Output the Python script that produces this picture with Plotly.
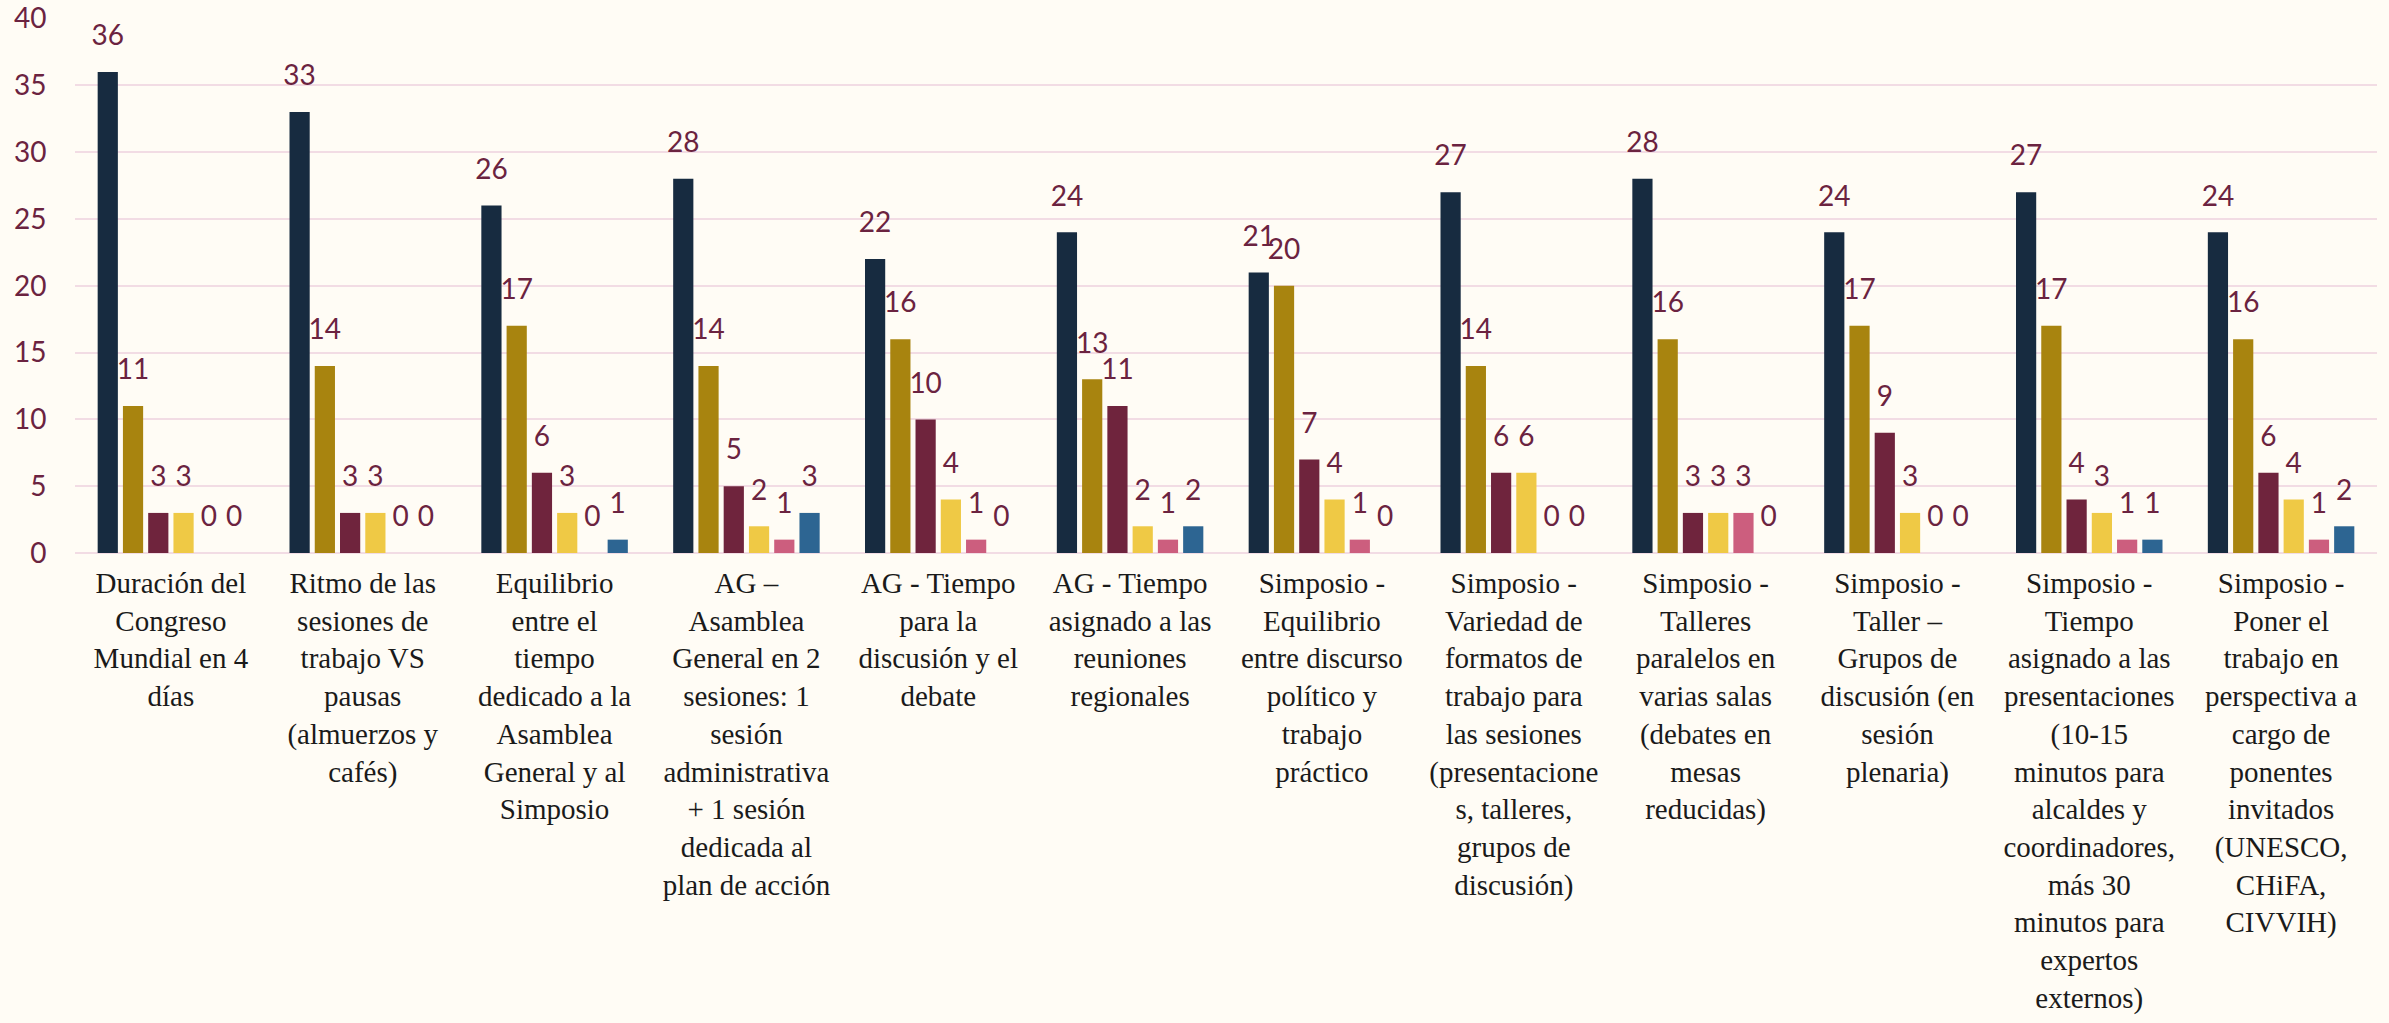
import plotly.graph_objects as go

# Categorías del eje X (con saltos de línea como en el original)
categorias = [
    "Duración del<br>Congreso<br>Mundial en 4<br>días",
    "Ritmo de las<br>sesiones de<br>trabajo VS<br>pausas<br>(almuerzos y<br>cafés)",
    "Equilibrio<br>entre el<br>tiempo<br>dedicado a la<br>Asamblea<br>General y al<br>Simposio",
    "AG –<br>Asamblea<br>General en 2<br>sesiones: 1<br>sesión<br>administrativa<br>+ 1 sesión<br>dedicada al<br>plan de acción",
    "AG - Tiempo<br>para la<br>discusión y el<br>debate",
    "AG - Tiempo<br>asignado a las<br>reuniones<br>regionales",
    "Simposio -<br>Equilibrio<br>entre discurso<br>político y<br>trabajo<br>práctico",
    "Simposio -<br>Variedad de<br>formatos de<br>trabajo para<br>las sesiones<br>(presentacione<br>s, talleres,<br>grupos de<br>discusión)",
    "Simposio -<br>Talleres<br>paralelos en<br>varias salas<br>(debates en<br>mesas<br>reducidas)",
    "Simposio -<br>Taller –<br>Grupos de<br>discusión (en<br>sesión<br>plenaria)",
    "Simposio -<br>Tiempo<br>asignado a las<br>presentaciones<br>(10-15<br>minutos para<br>alcaldes y<br>coordinadores,<br>más 30<br>minutos para<br>expertos<br>externos)",
    "Simposio -<br>Poner el<br>trabajo en<br>perspectiva a<br>cargo de<br>ponentes<br>invitados<br>(UNESCO,<br>CHiFA,<br>CIVVIH)",
]

# Valores de cada serie (una por color)
serie_1 = [36, 33, 26, 28, 22, 24, 21, 27, 28, 24, 27, 24]
serie_2 = [11, 14, 17, 14, 16, 13, 20, 14, 16, 17, 17, 16]
serie_3 = [3, 3, 6, 5, 10, 11, 7, 6, 3, 9, 4, 6]
serie_4 = [3, 3, 3, 2, 4, 2, 4, 6, 3, 3, 3, 4]
serie_5 = [0, 0, 0, 1, 1, 1, 1, 0, 3, 0, 1, 1]
serie_6 = [0, 0, 1, 3, 0, 2, 0, 0, 0, 0, 1, 2]

nombres = ["Serie 1", "Serie 2", "Serie 3", "Serie 4", "Serie 5", "Serie 6"]
colores = ["#172b40", "#a8840f", "#6f243d", "#efc945", "#cc5e7e", "#2d6592"]

texto = "#6b2340"
fondo = "#fffcf5"
rejilla = "#f2dce4"

series = [serie_1, serie_2, serie_3, serie_4, serie_5, serie_6]

fig = go.Figure()
for nombre, valores, color in zip(nombres, series, colores):
    fig.add_trace(go.Bar(
        x=categorias,
        y=valores,
        name=nombre,
        marker=dict(color=color, line=dict(width=0)),
    ))

# etiquetas de datos: puntos invisibles agrupados igual que las barras,
# así el texto queda un poco separado de la barra como en el original
for nombre, valores in zip(nombres, series):
    fig.add_trace(go.Scatter(
        x=categorias,
        y=valores,
        name=nombre,
        mode="markers+text",
        marker=dict(size=30, opacity=0),
        text=[str(v) for v in valores],
        textposition="top center",
        textfont=dict(family="Lato", size=28, color=texto),
        cliponaxis=False,
        hoverinfo="skip",
    ))

fig.update_layout(
    width=2389,
    height=1023,
    barmode="group",
    bargap=0.21,
    bargroupgap=0.2,
    scattermode="group",
    scattergap=0.21,
    showlegend=False,
    paper_bgcolor=fondo,
    plot_bgcolor=fondo,
    margin=dict(l=75, r=12, t=18, b=470),
    xaxis=dict(
        automargin=False,
        showgrid=False,
        showline=False,
        ticks="",
        tickangle=0,
        ticklabelstandoff=10,
        tickfont=dict(family="Liberation Serif", size=29, color="#1a1a1a"),
    ),
    yaxis=dict(
        automargin=False,
        range=[0, 40.04],
        tickvals=[0, 5, 10, 15, 20, 25, 30, 35, 40],
        showgrid=True,
        gridcolor=rejilla,
        gridwidth=2,
        zeroline=True,
        zerolinecolor=rejilla,
        zerolinewidth=2,
        ticks="outside",
        ticklen=22,
        tickcolor=fondo,
        tickfont=dict(family="Lato", size=28, color=texto),
    ),
)

fig.write_html("out.html", config={"displayModeBar": False},
               post_script="document.body.style.margin='0';")
